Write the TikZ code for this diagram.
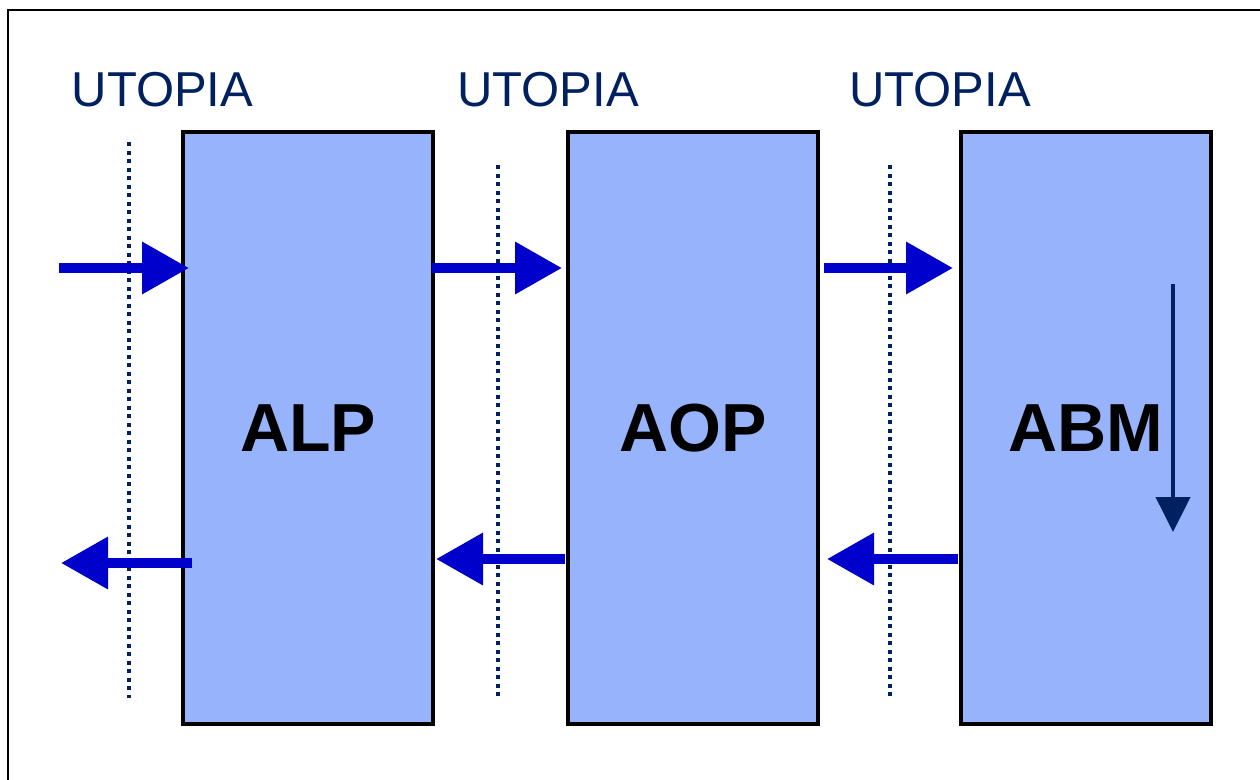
\documentclass[tikz,border=0pt]{standalone}
\usepackage{fontspec}
\setmainfont{Liberation Sans}
\usetikzlibrary{arrows.meta}
\definecolor{boxfill}{RGB}{150,179,252}
\definecolor{flowblue}{RGB}{0,0,204}
\definecolor{navy}{RGB}{0,32,96}
\tikzset{
  blockbox/.style={draw=black, line width=3.5pt, fill=boxfill, minimum width=250pt, minimum height=592pt, inner sep=0pt, font=\fontsize{68}{70}\selectfont\bfseries, text=black},
  utopialabel/.style={inner sep=0pt, font=\fontsize{49}{50}\selectfont, text=navy},
  interface/.style={draw=navy, line width=3.3pt, dash pattern=on 4.3pt off 4.2pt},
  flowarrow/.style={draw=flowblue, line width=10pt, -{Triangle[length=47pt,width=50pt]}},
  downarrow/.style={draw=navy, line width=4pt, -{Triangle[length=35pt,width=34pt]}},
  frameline/.style={draw=black, line width=2pt}
}
\begin{document}
\begin{tikzpicture}[x=1pt,y=-1pt]
\useasboundingbox (0,0) rectangle (1260,779);
% frame
\coordinate (f1) at (8,790);
\coordinate (f2) at (8,10);
\coordinate (f3) at (1270,10);
\draw[frameline] (f1) -- (f2) -- (f3);
% interface labels
\node[utopialabel] (u1) at (162.5,90) {UTOPIA};
\node[utopialabel] (u2) at (548,90) {UTOPIA};
\node[utopialabel] (u3) at (940,90) {UTOPIA};
% interface lines
\coordinate (d1t) at (129,142); \coordinate (d1b) at (129,698);
\coordinate (d2t) at (498,165); \coordinate (d2b) at (498,698);
\coordinate (d3t) at (890,165); \coordinate (d3b) at (890,698);
% blocks
\node[blockbox] (alp) at (308,428) {ALP};
\node[blockbox] (aop) at (693,428) {AOP};
\node[blockbox] (abm) at (1086,428) {ABM};
\draw[interface] (d1t) -- (d1b);
\draw[interface] (d2t) -- (d2b);
\draw[interface] (d3t) -- (d3b);
% forward arrows
\coordinate (r1s) at (59,268);  \coordinate (r1e) at (189,268);
\coordinate (r2s) at (432,268); \coordinate (r2e) at (562,268);
\coordinate (r3s) at (824,268); \coordinate (r3e) at (953,268);
\draw[flowarrow] (r1s) -- (r1e);
\draw[flowarrow] (r2s) -- (r2e);
\draw[flowarrow] (r3s) -- (r3e);
% backward arrows
\coordinate (l1s) at (192,563); \coordinate (l1e) at (61,563);
\coordinate (l2s) at (565,559); \coordinate (l2e) at (436,559);
\coordinate (l3s) at (958,559); \coordinate (l3e) at (827,559);
\draw[flowarrow] (l1s) -- (l1e);
\draw[flowarrow] (l2s) -- (l2e);
\draw[flowarrow] (l3s) -- (l3e);
% internal arrow in ABM
\coordinate (ds) at (1173,284); \coordinate (de) at (1173,532);
\draw[downarrow] (ds) -- (de);
\end{tikzpicture}
\end{document}
